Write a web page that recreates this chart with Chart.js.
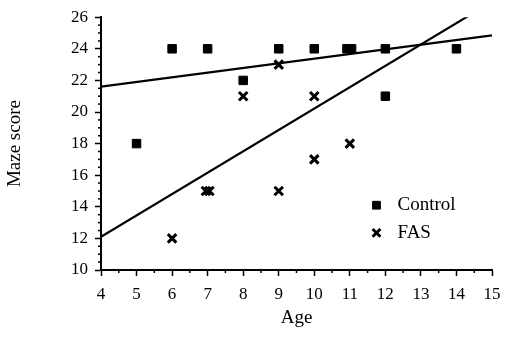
<!DOCTYPE html>
<html>
<head>
<meta charset="utf-8">
<script src="https://cdn.jsdelivr.net/npm/chart.js@4.4.1/dist/chart.umd.min.js"></script>
<style>
  html, body { margin: 0; padding: 0; background: #fff; }
  #wrap { width: 509px; height: 338px; }
</style>
</head>
<body>
<div id="wrap"><canvas id="c"></canvas></div>
<script>
// data
const controlAge   = [5, 6, 7, 8, 9, 10, 10.92, 11.05, 12, 12, 14];
const controlScore = [18, 24, 24, 22, 24, 24, 24, 24, 24, 21, 24];
const fasAge   = [6, 6.95, 7.05, 8, 9, 9, 10, 10, 11];
const fasScore = [12, 15, 15, 21, 23, 15, 21, 17, 18];
// regression lines (end points)
const controlFitX = [4, 15];
const controlFitY = [21.6, 24.85];
const fasFitX = [4, 14.35];
const fasFitY = [12.1, 26.1];

const legendItems = ['Control', 'FAS'];
const FONT = "'Liberation Serif', 'DejaVu Serif', serif";

const pts = (xs, ys) => xs.map((x, i) => ({ x, y: ys[i] }));

/* minor ticks + legend drawn on top using the chart's own scales */
const extras = {
  id: 'extras',
  afterDraw(chart) {
    const ctx = chart.ctx, xs = chart.scales.x, ys = chart.scales.y;
    ctx.save();
    ctx.strokeStyle = '#000';
    ctx.lineWidth = 1.5;
    for (let v = 4.5; v < 15; v += 1) {
      const px = xs.getPixelForValue(v);
      ctx.beginPath(); ctx.moveTo(px, xs.top); ctx.lineTo(px, xs.top + 3); ctx.stroke();
    }
    for (let v = 10.5; v < 26; v += 0.5) {
      if (v % 2 === 0) continue;
      const py = ys.getPixelForValue(v);
      ctx.beginPath(); ctx.moveTo(ys.right, py); ctx.lineTo(ys.right - 3, py); ctx.stroke();
    }
    // legend
    const lx = xs.getPixelForValue(11.75);
    const ly = [ys.getPixelForValue(14.1), ys.getPixelForValue(12.35)];
    chart.data.datasets.slice(0, 2).forEach((ds, i) => {
      ctx.fillStyle = '#000';
      ctx.strokeStyle = '#000';
      ctx.lineWidth = ds.borderWidth;
      Chart.helpers.drawPoint(ctx, {
        pointStyle: ds.pointStyle, radius: ds.pointRadius - 0.5,
        borderWidth: ds.borderWidth, rotation: 0
      }, lx, ly[i]);
    });
    ctx.fillStyle = '#000';
    ctx.font = '19px ' + FONT;
    ctx.textBaseline = 'middle';
    legendItems.forEach((t, i) => ctx.fillText(t, lx + 21, ly[i]));
    ctx.restore();
  }
};

new Chart(document.getElementById('c'), {
  type: 'scatter',
  data: {
    datasets: [
      { label: 'Control', data: pts(controlAge, controlScore), pointStyle: 'rect', pointRadius: 6,
        backgroundColor: '#000', borderColor: '#000', borderWidth: 1 },
      { label: 'FAS', data: pts(fasAge, fasScore), pointStyle: 'crossRot', pointRadius: 6,
        backgroundColor: '#000', borderColor: '#000', borderWidth: 3 },
      { type: 'line', data: pts(controlFitX, controlFitY), borderColor: '#000', borderWidth: 2.2,
        pointRadius: 0, fill: false },
      { type: 'line', data: pts(fasFitX, fasFitY), borderColor: '#000', borderWidth: 2.2,
        pointRadius: 0, fill: false }
    ]
  },
  options: {
    responsive: true, maintainAspectRatio: false, animation: false,
    layout: { padding: { top: 15, right: 17, left: 0, bottom: 0 } },
    plugins: { legend: { display: false }, tooltip: { enabled: false } },
    scales: {
      x: {
        type: 'linear', min: 4, max: 15,
        ticks: { stepSize: 1, color: '#000', font: { family: FONT, size: 17 }, padding: 8, maxRotation: 0 },
        grid: { display: true, drawOnChartArea: false, drawTicks: true, tickLength: 6, tickColor: '#000', tickWidth: 1.5 },
        border: { color: '#000', width: 2 },
        title: { display: true, text: 'Age', color: '#000', font: { family: FONT, size: 19 }, padding: { top: 4, bottom: 9 } },
        afterFit: s => { s.height = 68; }
      },
      y: {
        min: 10, max: 26,
        ticks: { stepSize: 2, color: '#000', font: { family: FONT, size: 17 }, padding: 7 },
        grid: { display: true, drawOnChartArea: false, drawTicks: true, tickLength: 6, tickColor: '#000', tickWidth: 1.5 },
        border: { color: '#000', width: 2 },
        title: { display: true, text: 'Maze score', color: '#000', font: { family: FONT, size: 19 }, padding: { bottom: 12 } },
        afterFit: s => { s.width = 101; }
      }
    }
  },
  plugins: [extras]
});
</script>
</body>
</html>
